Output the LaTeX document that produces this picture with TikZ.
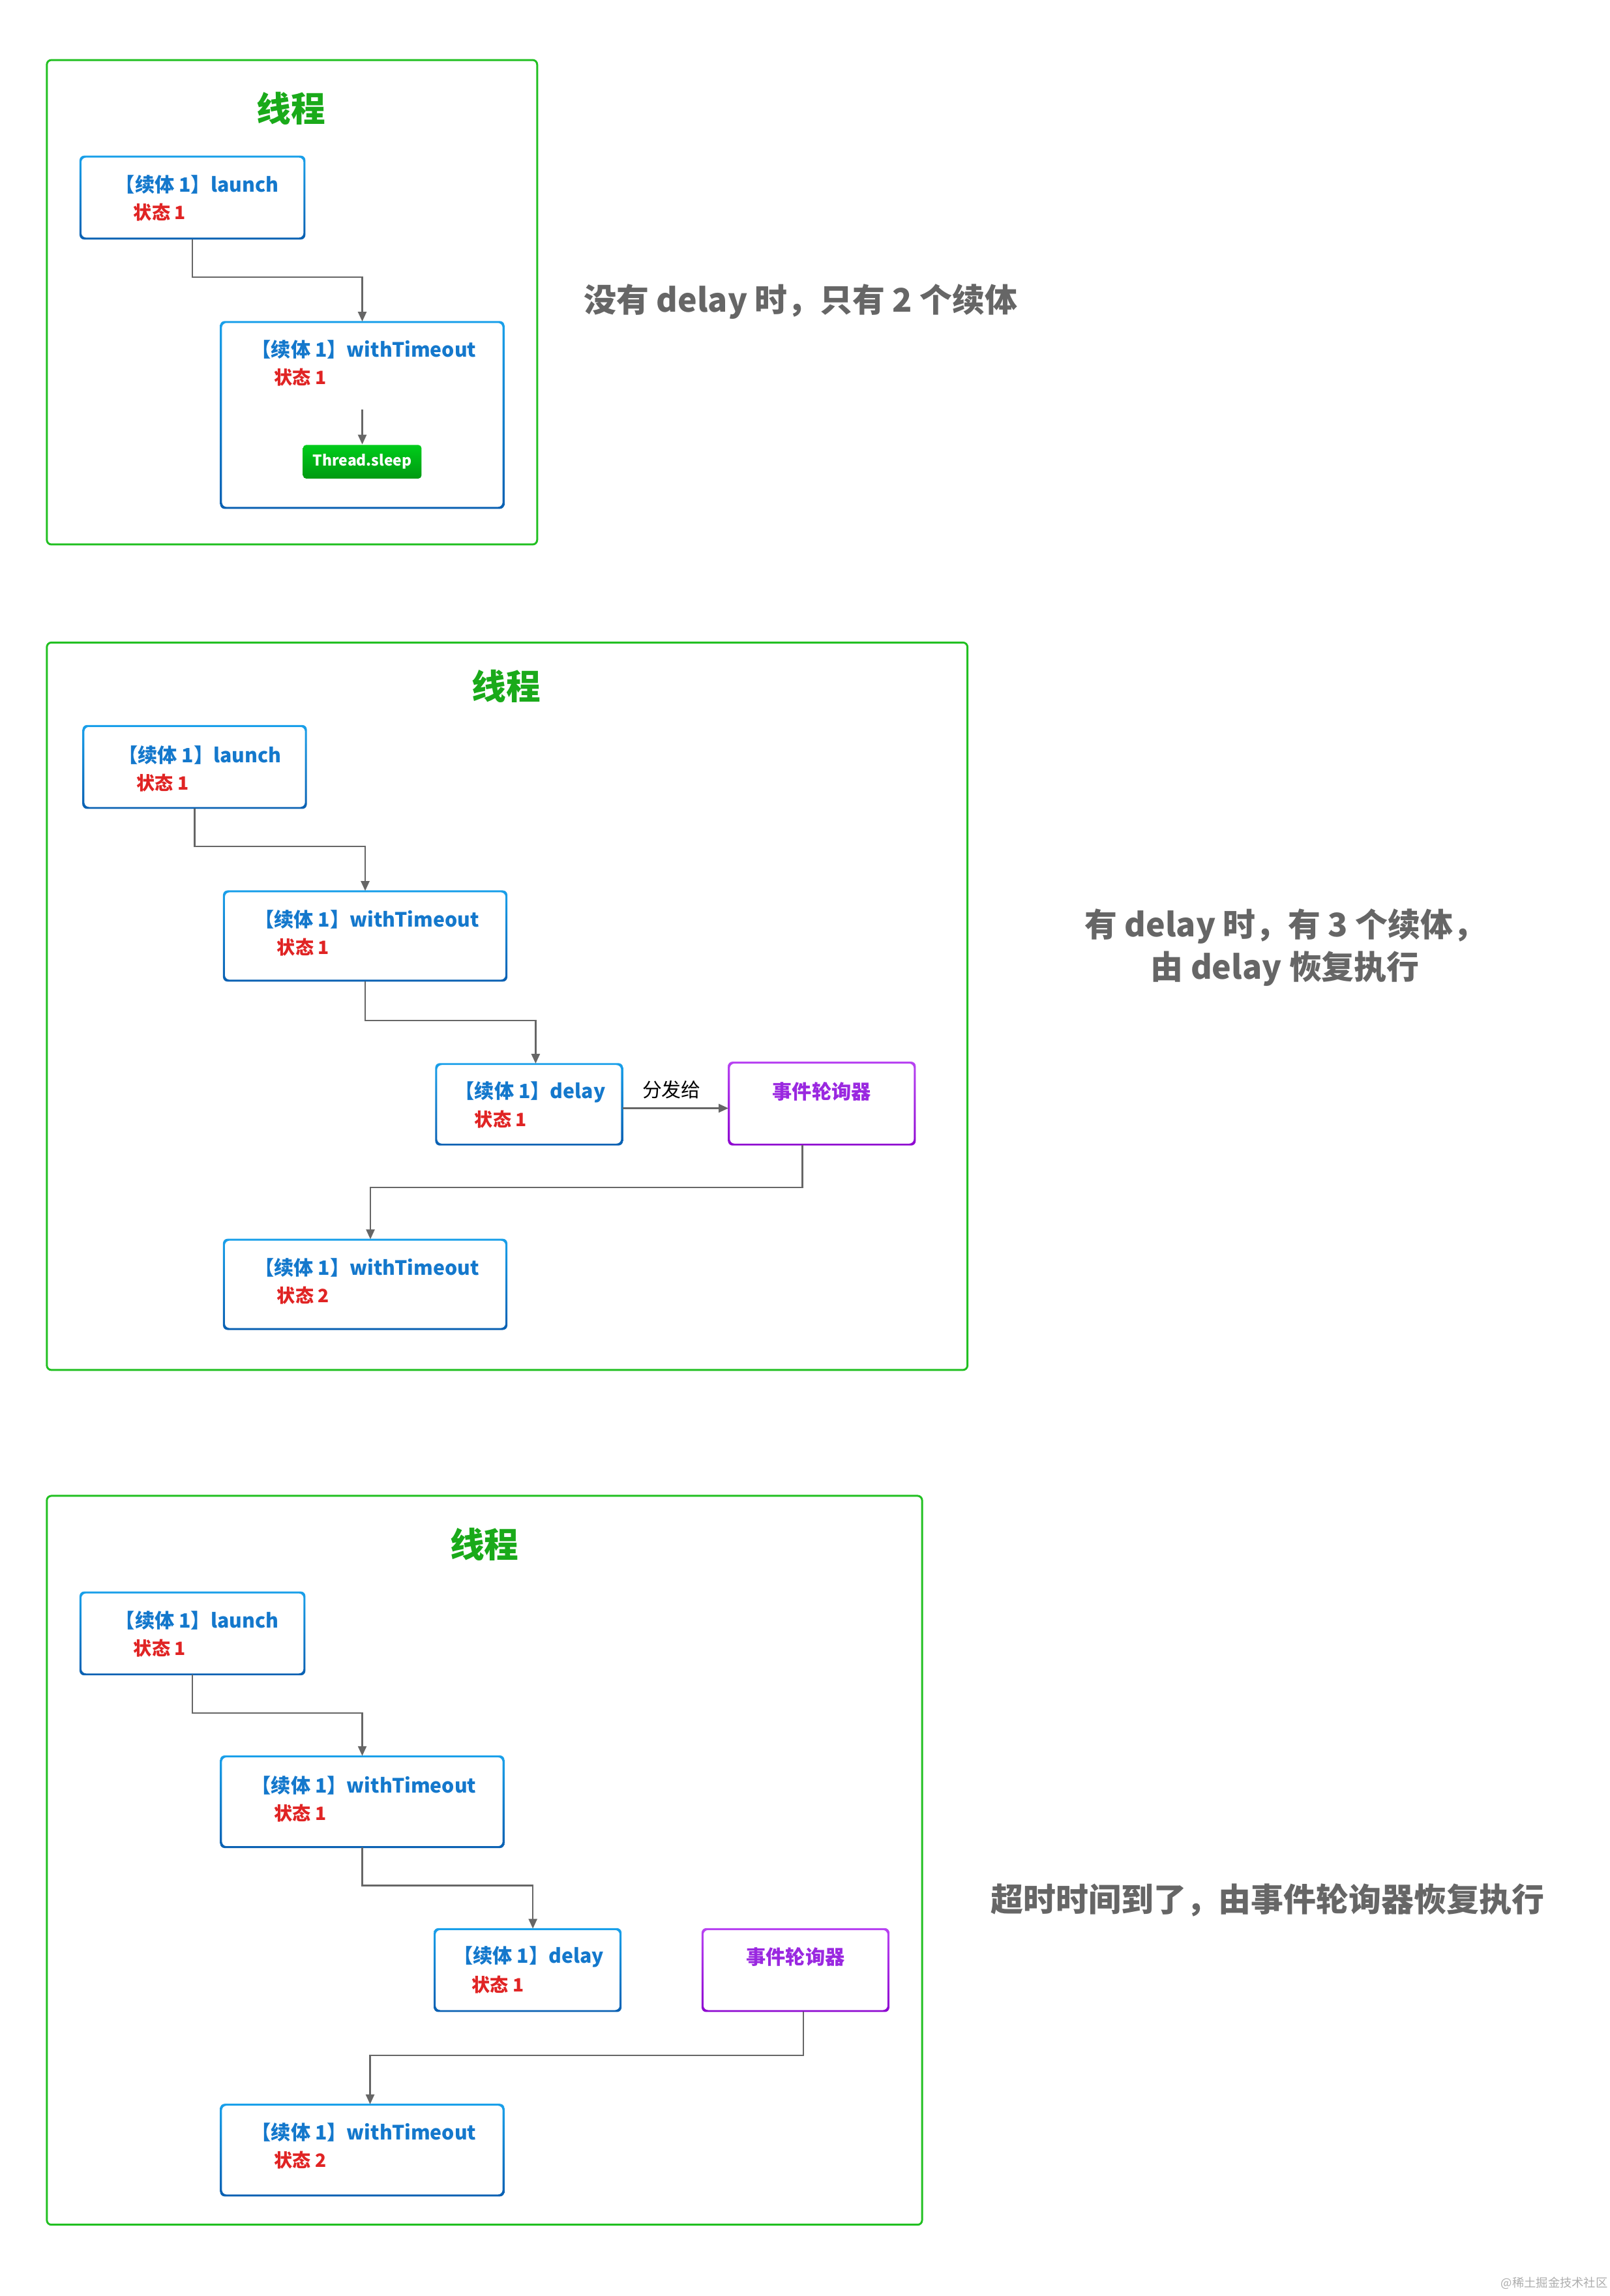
\documentclass[tikz,border=0pt]{standalone}
\usepackage{fontspec}
\setmainfont{Noto Sans CJK SC}
\usetikzlibrary{arrows.meta,fit}
\definecolor{framegreen}{HTML}{22C022}
\definecolor{titlegreen}{HTML}{1AAA1A}
\definecolor{bluetop}{HTML}{1AA0EA}
\definecolor{bluebot}{HTML}{0A60B2}
\definecolor{bluetext}{HTML}{1478CC}
\definecolor{redtext}{HTML}{E02424}
\definecolor{purpletop}{HTML}{B844F2}
\definecolor{purplebot}{HTML}{8E08D0}
\definecolor{purpletext}{HTML}{9A28E0}
\definecolor{conncol}{HTML}{666666}
\definecolor{notecol}{HTML}{666666}
\definecolor{sleeptop}{HTML}{00CC1A}
\definecolor{sleepbot}{HTML}{009A12}
\newcommand{\gradbox}[6]{%
  \shade[#6, even odd rule, rounded corners=0.07cm]
    (#2-0.65,#3-0.65) rectangle (#4+0.65,#5+0.65)
    (#2+0.65,#3+0.65) rectangle (#4-0.65,#5-0.65);
  \node[fit={(#2,#3) (#4,#5)}, inner sep=0pt] (#1) {};}
\begin{document}
\begin{tikzpicture}[x=0.022445cm,y=-0.022445cm,
  frame/.style={draw=framegreen, line width=0.85pt, rounded corners=0.07cm},
  bluegrad/.style={top color=bluetop, bottom color=bluebot},
  purplegrad/.style={top color=purpletop, bottom color=purplebot},
  titletext/.style={text=titlegreen, inner sep=0pt, font=\fontsize{15}{18}\selectfont\bfseries},
  ctext/.style={anchor=west, inner sep=0pt, text=bluetext, font=\fontsize{8.6}{11}\selectfont\bfseries},
  stext/.style={anchor=west, inner sep=0pt, text=redtext, font=\fontsize{8}{10}\selectfont\bfseries},
  etext/.style={inner sep=0pt, text=purpletext, font=\fontsize{8.6}{10}\selectfont\bfseries},
  notetext/.style={inner sep=0pt, text=notecol, align=center, font=\fontsize{14.2}{18.5}\selectfont\bfseries},
  conn/.style={draw=conncol, line width=0.7pt, -{Triangle[length=0.15cm,width=0.13cm]}},
  sleepbox/.style={top color=sleeptop, bottom color=sleepbot, rounded corners=0.05cm, inner sep=0pt},
  sleeptext/.style={inner sep=0pt, text=white, font=\fontsize{6.5}{8}\selectfont\bfseries}
]
\useasboundingbox (0,0) rectangle (1100,1568.7);

% ---------------- Panel 1 ----------------
\draw[frame] (32,41) rectangle (367,372);
\node[fit={(32,41) (367,372)}, inner sep=0pt] (fr1) {};
\node[titletext] (tt1) at (199,74) {线程};
\gradbox{l1}{55}{107}{208}{163}{bluegrad}
\node[ctext] (l1a) at (78.5,126) {【续体 1】launch};
\node[stext] (l1b) at (91,145) {状态 1};
\gradbox{w1}{151}{220}{344}{347}{bluegrad}
\node[ctext] (w1a) at (171.5,239) {【续体 1】withTimeout};
\node[stext] (w1b) at (187,258) {状态 1};
\node[sleepbox, fit={(207,304) (288,327)}] (ts1) {};
\node[sleeptext] (ts1t) at (ts1) {Thread.sleep};
\coordinate (s1) at (247.5,280);
\draw[conn] (l1.south) -- ++(0,26) -| (w1.north);
\draw[conn] (s1) -- (ts1.north);
\node[notetext] (n1) at (547,206) {没有 delay 时，只有 2 个续体};

% ---------------- Panel 2 ----------------
\draw[frame] (32,439) rectangle (661,936);
\node[fit={(32,439) (661,936)}, inner sep=0pt] (fr2) {};
\node[titletext] (tt2) at (346,469) {线程};
\gradbox{l2}{57}{496}{209}{552}{bluegrad}
\node[ctext] (l2a) at (80.5,516) {【续体 1】launch};
\node[stext] (l2b) at (93,535) {状态 1};
\gradbox{w2}{153}{609}{346}{670}{bluegrad}
\node[ctext] (w2a) at (173.5,628) {【续体 1】withTimeout};
\node[stext] (w2b) at (189,647) {状态 1};
\gradbox{d2}{298}{727}{425}{782}{bluegrad}
\node[ctext] (d2a) at (310.5,746) {【续体 1】delay};
\node[stext] (d2b) at (324,765) {状态 1};
\gradbox{e2}{498}{726}{625}{782}{purplegrad}
\node[etext] (e2a) at (561.5,746) {事件轮询器};
\gradbox{t2}{153}{847}{346}{908}{bluegrad}
\node[ctext] (t2a) at (173.5,866) {【续体 1】withTimeout};
\node[stext] (t2b) at (189,885) {状态 2};
\draw[conn] (l2.south) -- ++(0,26) -| (w2.north);
\draw[conn] (w2.south) -- ++(0,27) -| ([xshift=0.1cm]d2.north);
\draw[conn] ([yshift=-0.06cm]d2.east) -- node[midway, yshift=0.28cm, xshift=-0.06cm, inner sep=0pt, text=black, font=\fontsize{8.5}{10}\selectfont] (lab2) {分发给} ([yshift=-0.06cm]e2.west |- d2.east);
\draw[conn] ([xshift=-0.3cm]e2.south) -- ++(0,29) -| ([xshift=0.08cm]t2.north);
\node[notetext] (n2) at (878,647.5) {有 delay 时，有 3 个续体，\\由 delay 恢复执行};

% ---------------- Panel 3 ----------------
\draw[frame] (32,1022) rectangle (630,1520);
\node[fit={(32,1022) (630,1520)}, inner sep=0pt] (fr3) {};
\node[titletext] (tt3) at (331,1055) {线程};
\gradbox{l3}{55}{1088}{208}{1144}{bluegrad}
\node[ctext] (l3a) at (78.5,1107) {【续体 1】launch};
\node[stext] (l3b) at (91,1126) {状态 1};
\gradbox{w3}{151}{1200}{344}{1262}{bluegrad}
\node[ctext] (w3a) at (171.5,1220) {【续体 1】withTimeout};
\node[stext] (w3b) at (187,1239) {状态 1};
\gradbox{d3}{297}{1318}{424}{1374}{bluegrad}
\node[ctext] (d3a) at (309.5,1337) {【续体 1】delay};
\node[stext] (d3b) at (322,1356) {状态 1};
\gradbox{e3}{480}{1318}{607}{1374}{purplegrad}
\node[etext] (e3a) at (543.5,1337) {事件轮询器};
\gradbox{t3}{151}{1438}{344}{1500}{bluegrad}
\node[ctext] (t3a) at (171.5,1457) {【续体 1】withTimeout};
\node[stext] (t3b) at (187,1476) {状态 2};
\draw[conn] (l3.south) -- ++(0,26) -| (w3.north);
\draw[conn] (w3.south) -- ++(0,26) -| ([xshift=0.08cm]d3.north);
\draw[conn] ([xshift=0.12cm]e3.south) -- ++(0,30) -| ([xshift=0.12cm]t3.north);
\node[notetext] (n3) at (866,1298) {超时时间到了，由事件轮询器恢复执行};

% watermark
\node[inner sep=0pt, text=black!32, font=\fontsize{5.2}{6}\selectfont] (wm) at (1062,1560) {@稀土掘金技术社区};
\end{tikzpicture}
\end{document}
